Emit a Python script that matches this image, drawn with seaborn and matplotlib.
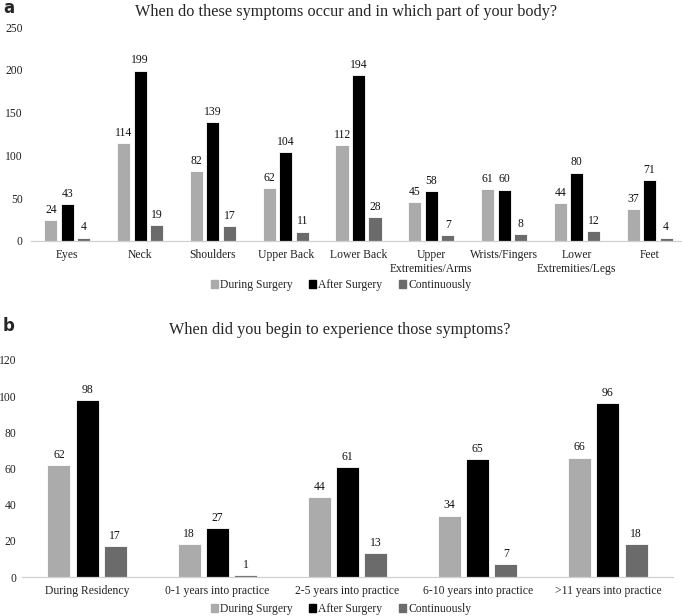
import pandas as pd
import numpy as np
import matplotlib
matplotlib.use('Agg')
import matplotlib.pyplot as plt
import seaborn as sns

# panel a data
parts = ['Eyes', 'Neck', 'Shoulders', 'Upper Back', 'Lower Back',
         'Upper\nExtremities/Arms', 'Wrists/Fingers', 'Lower\nExtremities/Legs', 'Feet']
during_a = [24, 114, 82, 62, 112, 45, 61, 44, 37]
after_a = [43, 199, 139, 104, 194, 58, 60, 80, 71]
cont_a = [4, 19, 17, 11, 28, 7, 8, 12, 4]

# panel b data
onset = ['During Residency', '0-1 years into practice', '2-5 years into practice',
         '6-10 years into practice', '>11 years into practice']
during_b = [62, 18, 44, 34, 66]
after_b = [98, 27, 61, 65, 96]
cont_b = [17, 1, 13, 7, 18]

series = ['During Surgery', 'After Surgery', 'Continuously']
colors = ['#ababab', '#000000', '#6b6b6b']

sns.set_style('white')
plt.rcParams['font.family'] = ['Liberation Serif', 'DejaVu Serif']

FS = 8.4


def long_df(cats, d, a, c):
    rows = []
    for vals, name in zip([d, a, c], series):
        for cat, v in zip(cats, vals):
            rows.append({'cat': cat, 'series': name, 'value': v})
    return pd.DataFrame(rows)


def draw(ax, df, cats, ymax, ystep, width, gap, ypad):
    sns.barplot(data=df, x='cat', y='value', hue='series', order=cats,
                hue_order=series, palette=colors, width=width, gap=gap,
                edgecolor='white', linewidth=0.6, ax=ax, legend=True)
    for cont in ax.containers:
        ax.bar_label(cont, padding=3, fontsize=FS, color='#111111')
    ax.set_ylim(0, ymax)
    ax.set_yticks(np.arange(0, ymax + 1, ystep))
    ax.set_xlim(-0.5, len(cats) - 0.5)
    ax.set_xlabel('')
    ax.set_ylabel('')
    for s in ['left', 'right', 'top']:
        ax.spines[s].set_visible(False)
    ax.spines['bottom'].set_color('#d0d0d0')
    ax.spines['bottom'].set_linewidth(0.9)
    ax.tick_params(axis='both', length=0, labelsize=FS, colors='#222222')
    ax.tick_params(axis='y', pad=ypad)
    ax.tick_params(axis='x', pad=6)
    ax.legend_.remove()


W, H = 682, 616
fig = plt.figure(figsize=(W / 100, H / 100), dpi=100)

ax1 = fig.add_axes([31 / W, 1 - 241 / H, (686 - 31) / W, (241 - 27) / H])
draw(ax1, long_df(parts, during_a, after_a, cont_a), parts, 250, 50, 0.68, 0.21, 6)

ax2 = fig.add_axes([22 / W, 1 - 577 / H, (673 - 22) / W, (577 - 360) / H])
draw(ax2, long_df(onset, during_b, after_b, cont_b), onset, 120, 20, 0.65, 0.185, 4)

handles = [plt.Rectangle((0, 0), 1, 1, color=c) for c in colors]
for y in [1 - 285 / H, 1 - 609 / H]:
    fig.legend(handles, series, loc='center', bbox_to_anchor=(0.5, y), ncol=3,
               frameon=False, fontsize=FS, handlelength=0.6, handleheight=0.6,
               handletextpad=0.2, columnspacing=1.4)

fig.text(346 / W, 1 - 12 / H, 'When do these symptoms occur and in which part of your body?',
         ha='center', va='center', fontsize=11.7)
fig.text(340 / W, 1 - 330 / H, 'When did you begin to experience those symptoms?',
         ha='center', va='center', fontsize=11.7)
fig.text(3 / W, 1 - 8 / H, 'a', ha='left', va='center', fontsize=12,
         fontweight='bold', family='DejaVu Sans')
fig.text(3 / W, 1 - 326 / H, 'b', ha='left', va='center', fontsize=12,
         fontweight='bold', family='DejaVu Sans')

fig.savefig('out.png', dpi=100)
